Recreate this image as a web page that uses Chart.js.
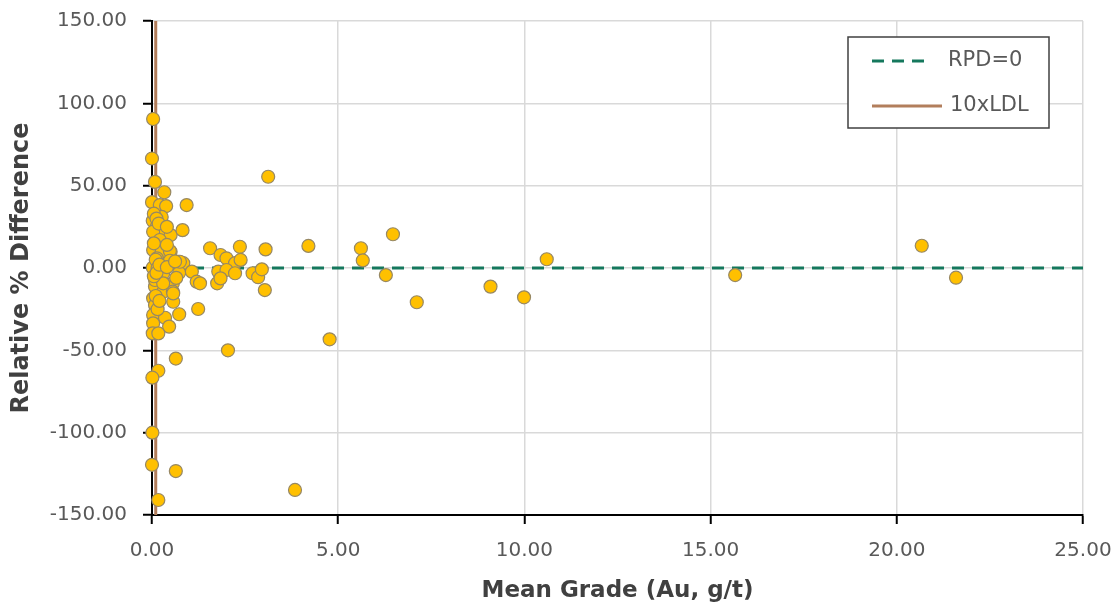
<!DOCTYPE html>
<html>
<head>
<meta charset="utf-8">
<script src="https://cdn.jsdelivr.net/npm/chart.js@4/dist/chart.umd.min.js"></script>
<style>
  html, body { margin: 0; padding: 0; background: #ffffff; }
  #wrap { width: 1112px; height: 606px; }
</style>
</head>
<body>
<div id="wrap"><canvas id="c" width="1112" height="606"></canvas></div>
<script>
// Duplicate assays: mean grade (Au, g/t) and relative % difference
const meanGrade = [
  0.03, 0.00, 0.08, 0.33, 0.00, 0.21, 0.38, 0.93, 0.26, 0.02,
  0.13, 0.30, 0.50, 0.82, 0.03, 0.21, 0.08, 0.26, 0.50, 0.71,
  0.84, 1.56, 1.84, 2.00, 2.36, 2.23, 2.38, 3.05, 3.12, 4.20,
  5.61, 5.66, 6.47, 6.28, 7.11, 4.77, 9.09, 9.99, 10.60, 15.66,
  20.67, 21.59, 3.84, 2.04, 0.64, 0.17, 0.01, 0.01, 0.00, 0.64,
  0.17, 0.02, 0.30, 0.48, 0.73, 1.07, 1.20, 1.29, 1.78, 2.00,
  2.23, 1.75, 1.84, 2.70, 2.85, 2.95, 3.03, 1.24, 0.08, 0.30,
  0.56, 0.56, 0.03, 0.08, 0.57, 0.08, 0.30, 0.57, 0.03, 0.35,
  0.73, 0.03, 0.46, 0.02, 0.17, 0.03, 0.26, 0.48, 0.13, 0.48,
  0.75, 0.05, 0.10, 0.15, 0.05, 0.12, 0.20, 0.40, 0.10, 0.15,
  0.20, 0.05, 0.12, 0.18, 0.40, 0.40, 0.62, 0.65
];
const relDiff = [
  90.5, 66.5, 52.3, 46.0, 40.0, 38.2, 37.6, 38.2, 31.0, 28.7,
  25.0, 22.5, 20.0, 23.0, 22.0, 17.0, 10.9, 8.5, 9.9, 3.8,
  2.9, 12.0, 7.9, 5.9, 12.9, 2.9, 4.9, 11.3, 55.4, 13.4,
  12.0, 4.6, 20.5, -4.3, -20.8, -43.3, -11.3, -17.8, 5.3, -4.3,
  13.5, -5.9, -134.8, -50.0, -55.0, -62.4, -66.6, -100.0, -119.5, -123.3,
  -140.9, 0.2, -3.2, 2.9, -2.9, -2.2, -8.3, -9.3, -2.2, -1.2,
  -3.2, -9.3, -6.3, -3.2, -5.6, -0.8, -13.4, -24.9, -11.3, -14.4,
  -9.3, -14.4, -18.4, -22.5, -20.5, -7.3, -9.3, -15.4, -28.5, -30.2,
  -28.1, -33.6, -35.6, -39.7, -39.7, 10.9, 9.9, 10.3, 5.9, 4.4,
  3.8, 15.0, 5.0, 0.0, -5.0, -3.0, 2.0, 0.5, -17.0, -25.0,
  -20.0, 33.0, 30.0, 27.0, 25.0, 14.0, 4.0, -6.0
];

// Reference lines
const rpdLineX = [0, 25];
const rpdLineY = [0, 0];
const ldlX = [0.1, 0.1];
const ldlY = [-150, 150];

// Axis ticks
const xTicks = [0, 5, 10, 15, 20, 25];
const yTicks = [-150, -100, -50, 0, 50, 100, 150];

const legendItems = ['RPD=0', '10xLDL'];

const GREEN = '#15785D';
const BROWN = '#B27E5C';
const FONT = '"DejaVu Sans", sans-serif';

const pts = meanGrade.map((x, i) => ({ x: x, y: relDiff[i] }));
const rpdPts = rpdLineX.map((x, i) => ({ x: x, y: rpdLineY[i] }));
const ldlPts = ldlX.map((x, i) => ({ x: x, y: ldlY[i] }));

// Boxed legend drawn inside the plot area
const boxLegend = {
  id: 'boxLegend',
  afterDraw(chart) {
    const ctx = chart.ctx;
    const left = 848, top = 37, w = 201, h = 91;
    ctx.save();
    ctx.fillStyle = '#ffffff';
    ctx.fillRect(left, top, w, h);
    ctx.strokeStyle = '#404040';
    ctx.lineWidth = 1.5;
    ctx.strokeRect(left, top, w, h);

    ctx.lineWidth = 3;
    ctx.strokeStyle = GREEN;
    ctx.setLineDash([12, 8]);
    ctx.beginPath();
    ctx.moveTo(872, 61);
    ctx.lineTo(932, 61);
    ctx.stroke();

    ctx.setLineDash([]);
    ctx.strokeStyle = BROWN;
    ctx.beginPath();
    ctx.moveTo(872, 106);
    ctx.lineTo(942, 106);
    ctx.stroke();

    ctx.fillStyle = '#595959';
    ctx.font = '21px ' + FONT;
    ctx.textBaseline = 'middle';
    ctx.textAlign = 'left';
    ctx.fillText(legendItems[0], 948, 61);
    ctx.fillText(legendItems[1], 950, 106);
    ctx.restore();
  }
};

new Chart(document.getElementById('c'), {
  type: 'scatter',
  data: {
    datasets: [
      {
        label: 'Duplicates',
        data: pts,
        backgroundColor: '#FFC000',
        borderColor: '#978863',
        borderWidth: 1.2,
        pointRadius: 6.5,
        clip: false,
        order: 0
      },
      {
        label: legendItems[0],
        type: 'line',
        data: rpdPts,
        borderColor: GREEN,
        borderWidth: 3,
        borderDash: [12, 8],
        pointRadius: 0,
        fill: false,
        order: 1
      },
      {
        label: legendItems[1],
        type: 'line',
        data: ldlPts,
        borderColor: BROWN,
        borderWidth: 3,
        pointRadius: 0,
        fill: false,
        order: 2
      }
    ]
  },
  options: {
    responsive: false,
    animation: false,
    layout: { padding: { top: 21, right: 29, left: 0, bottom: 0 } },
    plugins: {
      legend: { display: false },
      tooltip: { enabled: false }
    },
    scales: {
      x: {
        type: 'linear',
        min: 0,
        max: 25,
        afterFit(scale) {
          scale.height = 91;
          scale.paddingLeft = 0;
          scale.paddingRight = 0;
        },
        afterBuildTicks(scale) { scale.ticks = xTicks.map(v => ({ value: v })); },
        ticks: {
          color: '#595959',
          font: { family: FONT, size: 20 },
          padding: 15,
          maxRotation: 0,
          callback: v => Number(v).toFixed(2)
        },
        grid: {
          color: '#D9D9D9',
          lineWidth: 1.5,
          tickColor: '#000000',
          tickLength: 9,
          tickWidth: 2
        },
        border: { color: '#000000', width: 2 },
        title: {
          display: true,
          text: 'Mean Grade (Au, g/t)',
          color: '#404040',
          font: { family: FONT, size: 23, weight: 'bold' },
          padding: { top: 0, bottom: 1 }
        }
      },
      y: {
        type: 'linear',
        min: -150,
        max: 150,
        afterFit(scale) {
          scale.width = 152;
          scale.paddingTop = 0;
          scale.paddingBottom = 0;
        },
        afterBuildTicks(scale) { scale.ticks = yTicks.map(v => ({ value: v })); },
        ticks: {
          color: '#595959',
          font: { family: FONT, size: 20 },
          padding: 16,
          callback: v => Number(v).toFixed(2)
        },
        grid: {
          color: '#D9D9D9',
          lineWidth: 1.5,
          tickColor: '#000000',
          tickLength: 9,
          tickWidth: 2
        },
        border: { color: '#000000', width: 2 },
        title: {
          display: true,
          text: 'Relative % Difference',
          color: '#404040',
          font: { family: FONT, size: 24, weight: 'bold' },
          padding: { top: 7, bottom: 0 }
        }
      }
    }
  },
  plugins: [boxLegend]
});
</script>
</body>
</html>
